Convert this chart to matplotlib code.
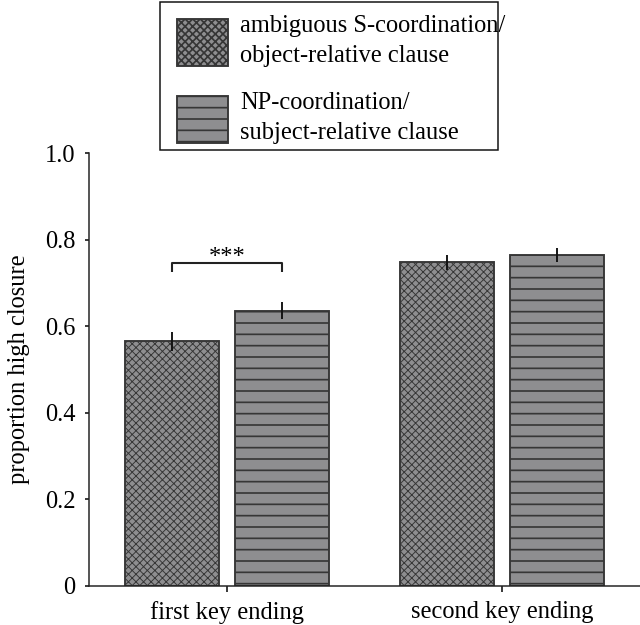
import matplotlib
matplotlib.use("Agg")
import matplotlib.pyplot as plt
from matplotlib.patches import Rectangle
import numpy as np

# data
groups = ["first key ending", "second key ending"]
labels = ["ambiguous S-coordination/\nobject-relative clause",
          "NP-coordination/\nsubject-relative clause"]
cross_vals = [0.565, 0.748]
cross_err = [0.022, 0.017]
horiz_vals = [0.636, 0.764]
horiz_err = [0.020, 0.016]
yticks = [0, 0.2, 0.4, 0.6, 0.8, 1.0]
ytick_labels = ["0", "0.2", "0.4", "0.6", "0.8", "1.0"]

DPI = 136
plt.rcParams["font.family"] = ["Liberation Serif", "DejaVu Serif"]
plt.rcParams["font.size"] = 13

fig = plt.figure(figsize=(640 / DPI, 625 / DPI), dpi=DPI)
ax = fig.add_axes([89 / 640, 0.0629, 1 - 89 / 640, 0.6918])

x = np.arange(len(groups))
w = 0.342
off = 0.2
face = "#8e8e90"
edge = "#363636"

plt.rcParams["hatch.linewidth"] = 0.5
b1 = ax.bar(x - off, cross_vals, w, color=face, edgecolor=edge, linewidth=1.0,
            hatch="xxxxxx", label=labels[0], zorder=2)
plt.rcParams["hatch.linewidth"] = 0.9
b2 = ax.bar(x + off, horiz_vals, w, color=face, edgecolor=edge, linewidth=1.0,
            hatch="--", label=labels[1], zorder=2)

ax.errorbar(x - off, cross_vals, yerr=cross_err, fmt="none", ecolor="#111111",
            elinewidth=1.0, capsize=0, zorder=3)
ax.errorbar(x + off, horiz_vals, yerr=horiz_err, fmt="none", ecolor="#111111",
            elinewidth=1.0, capsize=0, zorder=3)

# significance bracket over the first group
yb, drop = 0.746, 0.021
ax.plot([x[0] - off, x[0] - off, x[0] + off, x[0] + off],
        [yb - drop, yb, yb, yb - drop], color="#222222", lw=1.1,
        solid_capstyle="butt", zorder=3)
ax.text(x[0], 0.744, "***", ha="center", va="baseline", fontsize=13)

ax.set_xlim(-0.502, 1.502)
ax.set_ylim(0, 1.0)
ax.set_xticks(x)
ax.set_xticklabels(groups)
ax.set_yticks(yticks)
ax.set_yticklabels(ytick_labels)
ax.set_ylabel("proportion high closure", labelpad=8)
for s in ["top", "right"]:
    ax.spines[s].set_visible(False)
for s in ["left", "bottom"]:
    ax.spines[s].set_linewidth(0.8)
    ax.spines[s].set_color("#222222")
ax.tick_params(axis="y", direction="out", length=2.2, width=0.8, pad=5)
ax.tick_params(axis="x", direction="out", length=3.0, width=0.8, pad=5)

leg = fig.legend(handles=[b1, b2], loc="upper left",
                 bbox_to_anchor=(177 / 640, 1 - 15 / 625),
                 bbox_transform=fig.transFigure, borderaxespad=0,
                 frameon=False, handlelength=2.08, handleheight=2.57,
                 handletextpad=0.5, labelspacing=1.02, borderpad=0,
                 fontsize=13)
for t in leg.get_texts():
    t.set_linespacing(1.48)

# legend box (text overruns its right edge, as in the original)
fig.patches.append(Rectangle((160 / 640, 1 - 150 / 625), 338 / 640, 148 / 625,
                             transform=fig.transFigure, fill=False,
                             ec="#111111", lw=0.8))

fig.savefig("out.png", dpi=DPI)
